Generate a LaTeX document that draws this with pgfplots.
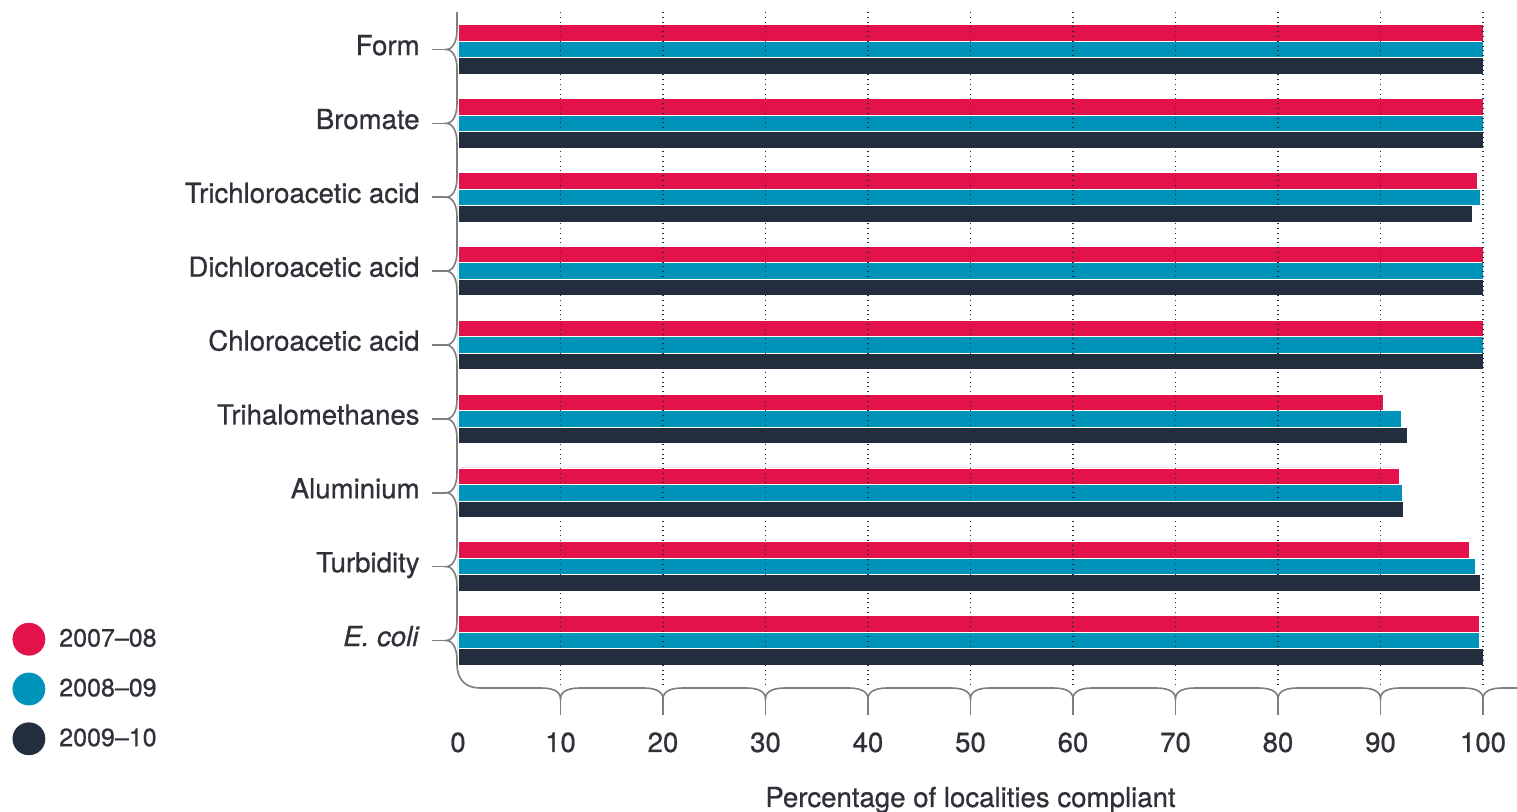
\documentclass[border=0pt]{standalone}
\usepackage{fontspec}
\setmainfont{TeX Gyre Heros}[UprightFeatures={FakeBold=0.7}, ItalicFeatures={FakeBold=0.7}]
\usepackage{pgfplots}
\pgfplotsset{compat=1.18}
\definecolor{redc}{HTML}{E3124B}
\definecolor{tealc}{HTML}{0093B9}
\definecolor{navyc}{HTML}{222E3E}
\definecolor{txt}{HTML}{2E3138}
\definecolor{spinec}{HTML}{7E7E7E}
\begin{document}
\begin{tikzpicture}
\path[use as bounding box] (-229pt,-62pt) rectangle (529.5pt,344pt);
\begin{axis}[
  at={(0pt,0pt)}, anchor=south west,
  scale only axis, width=512.5pt, height=338pt,
  xbar, bar width=0.2234,
  xmin=0, xmax=100, ymin=-0.5076, ymax=8.643, y dir=reverse,
  ytick={0,...,8},
  yticklabels={Form,Bromate,Trichloroacetic acid,Dichloroacetic acid,Chloroacetic acid,Trihalomethanes,Aluminium,Turbidity,\textit{E. coli}},
  xtick={0,10,...,100},
  minor xtick={10,20,...,100},
  xminorgrids,
  minor grid style={dotted, line width=0.8pt, color=navyc},
  axis line style={draw=none}, major tick length=0pt, minor tick length=0pt,
  tick style={draw=none},
  axis on top,
  clip=false,
  /pgf/number format/assume math mode=true,
  ticklabel style={font=\fontsize{13.8}{16}\selectfont, text=txt, inner sep=0pt},
  yticklabel style={anchor=base east, xshift=-19pt, yshift=-2.8pt},
  xticklabel style={anchor=base, yshift=-32pt},
  legend cell align=left,
  legend style={at={(axis description cs:-0.435,-0.0015)}, anchor=west,
    draw=none, fill=none, inner sep=0pt, row sep=8.5pt, column sep=7pt,
    nodes={inner sep=0pt, text=txt, font=\fontsize{12.5}{14}\selectfont}},
]
\addlegendimage{legend image code/.code={\fill[redc] (8pt,0pt) circle (8pt);}}
\addlegendentry{2007–08}
\addlegendimage{legend image code/.code={\fill[tealc] (8pt,0pt) circle (8pt);}}
\addlegendentry{2008–09}
\addlegendimage{legend image code/.code={\fill[navyc] (8pt,0pt) circle (8pt);}}
\addlegendentry{2009–10}
\addplot[forget plot, fill=redc, draw=white, line width=0.4pt, bar shift=-0.2234] coordinates {
 (100,0) (100,1) (99.5,2) (100,3) (100,4) (90.3,5) (91.8,6) (98.7,7) (99.6,8)};
\addplot[forget plot, fill=tealc, draw=white, line width=0.4pt, bar shift=0] coordinates {
 (100,0) (100,1) (99.7,2) (100,3) (100,4) (92.0,5) (92.1,6) (99.3,7) (99.6,8)};
\addplot[forget plot, fill=navyc, draw=white, line width=0.4pt, bar shift=0.2234] coordinates {
 (100,0) (100,1) (99.0,2) (100,3) (100,4) (92.6,5) (92.2,6) (99.7,7) (100,8)};
\end{axis}
% spine with braces
\draw[spinec, line width=0.8pt] (-0.5pt,338pt)
  \foreach \c in {319.25,282.3125,245.375,208.4375,171.5,134.5625,97.625,60.6875,23.75} {
    -- ({-0.5pt},{(\c+10)*1pt}) .. controls ({-0.5pt},{(\c+4)*1pt}) and ({-2.5pt},{\c*1pt}) .. ({-6pt},{\c*1pt})
    .. controls ({-2.5pt},{\c*1pt}) and ({-0.5pt},{(\c-4)*1pt}) .. ({-0.5pt},{(\c-10)*1pt})
  }
  -- (-0.5pt,12pt) .. controls (-0.5pt,4pt) and (4pt,0pt) .. (11pt,0pt)
  \foreach \t in {51.25,102.5,153.75,205,256.25,307.5,358.75,410,461.25,512.5} {
    -- ({(\t-10)*1pt},0pt) .. controls ({(\t-4)*1pt},0pt) and ({\t*1pt},-1.5pt) .. ({\t*1pt},-5.5pt)
    .. controls ({\t*1pt},-1.5pt) and ({(\t+4)*1pt},0pt) .. ({(\t+10)*1pt},0pt)
  }
  -- (529.5pt,0pt);
\foreach \c in {319.25,282.3125,245.375,208.4375,171.5,134.5625,97.625,60.6875,23.75}
  \draw[spinec, line width=0.8pt] ({-6pt},{\c*1pt}) -- ({-13pt},{\c*1pt});
\foreach \t in {51.25,102.5,153.75,205,256.25,307.5,358.75,410,461.25,512.5}
  \draw[spinec, line width=0.8pt] ({\t*1pt},-5.5pt) -- ({\t*1pt},-13.5pt);
\node[anchor=base, text=txt, font=\fontsize{13.8}{16}\selectfont, inner sep=0pt] at (256.25pt,-59.5pt) {Percentage of localities compliant};
\end{tikzpicture}
\end{document}
